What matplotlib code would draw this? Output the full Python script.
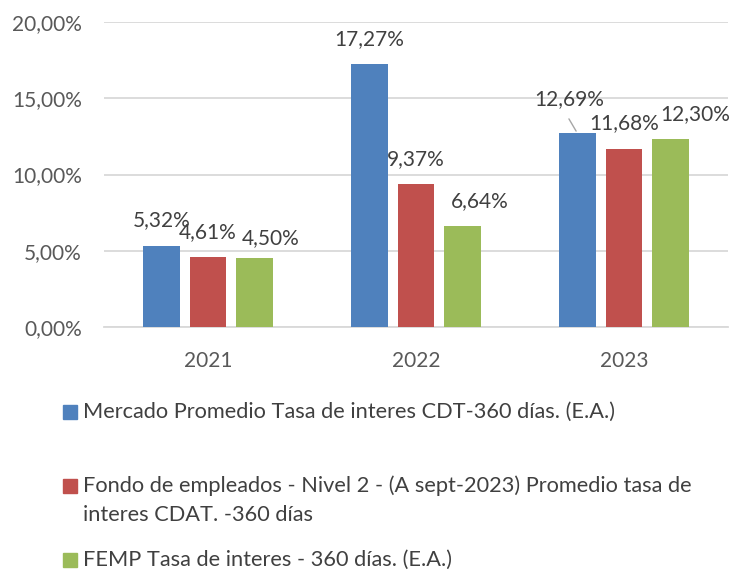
import numpy as np
import matplotlib.pyplot as plt
from matplotlib.patches import Rectangle

# -----------------------------
# Data
# -----------------------------
years = ["2021", "2022", "2023"]
mercado = [5.32, 17.27, 12.69]
fondo = [4.61, 9.37, 11.68]
femp = [4.50, 6.64, 12.30]

series_names = [
    "Mercado Promedio Tasa de interes CDT-360 días. (E.A.)",
    "Fondo de empleados - Nivel 2 - (A sept-2023) Promedio tasa de\ninteres CDAT. -360 días",
    "FEMP Tasa de interes - 360 días. (E.A.)",
]
y_ticks = [0, 5, 10, 15, 20]

colors = ["#4F81BD", "#C0504D", "#9BBB59"]
TXT = "#404040"
GRID = "#D9D9D9"

plt.rcParams["font.family"] = ["Lato", "DejaVu Sans"]

W, H = 736, 570
fig = plt.figure(figsize=(W / 100, H / 100), dpi=100)
ax = fig.add_axes([104 / W, 1 - 327 / H, (728 - 104) / W, (327 - 22) / H])

x = np.arange(len(years))
width = 0.175
step = 0.2235
all_series = [mercado, fondo, femp]

# label offsets in pixels (dx, dy) from bar top centre to label centre
label_offsets = [
    [(0, 26), (0, 25), (16, 20)],
    [(0, 25), (0, 25), (17, 25)],
    [(-8, 34), (0, 26), (25, 25)],
]

px = 72 / 100  # pixels -> points
for k, (vals, col) in enumerate(zip(all_series, colors)):
    xpos = x + (k - 1) * step
    ax.bar(xpos, vals, width, color=col, zorder=3)
    for i, (xp, v) in enumerate(zip(xpos, vals)):
        dx, dy = label_offsets[i][k]
        ax.annotate(
            f"{v:.2f}%".replace(".", ","),
            (xp, v),
            xytext=(dx * px, dy * px),
            textcoords="offset points",
            ha="center",
            va="center",
            fontsize=15,
            color=TXT,
            zorder=4,
        )

# leader line for the 2023 blue label
xb = x[2] - step
ax.annotate(
    "",
    (xb, mercado[2]),
    xytext=(-10 * px, 17 * px),
    textcoords="offset points",
    arrowprops=dict(arrowstyle="-", color="#A6A6A6", lw=1),
)

ax.set_xlim(-0.5, len(years) - 0.5)
ax.set_ylim(0, 20)
ax.set_yticks(y_ticks)
ax.set_yticklabels([f"{t:.2f}%".replace(".", ",") for t in y_ticks])
ax.set_xticks(x)
ax.set_xticklabels(years)
ax.tick_params(axis="y", length=0, pad=16, labelsize=15, labelcolor="#595959")
ax.tick_params(axis="x", length=0, pad=17, labelsize=15, labelcolor="#595959")
ax.grid(axis="y", color=GRID, lw=1.3, zorder=0)
for s in ["top", "right", "left"]:
    ax.spines[s].set_visible(False)
ax.spines["bottom"].set_color(GRID)
ax.spines["bottom"].set_linewidth(1.3)

# -----------------------------
# Legend (manual, Excel-like wrapping)
# -----------------------------
legend_y = [412, 486, 560]
for name, col, yy in zip(series_names, colors, legend_y):
    fig.patches.append(
        Rectangle((63 / W, 1 - (yy + 7) / H), 14 / W, 14 / H,
                  transform=fig.transFigure, color=col)
    )
    ty = yy + 14.5 if "\n" in name else yy
    fig.text(83 / W, 1 - ty / H, name, ha="left", va="center",
             fontsize=15.7, color=TXT, linespacing=1.57)

fig.savefig("out.png", dpi=100)
